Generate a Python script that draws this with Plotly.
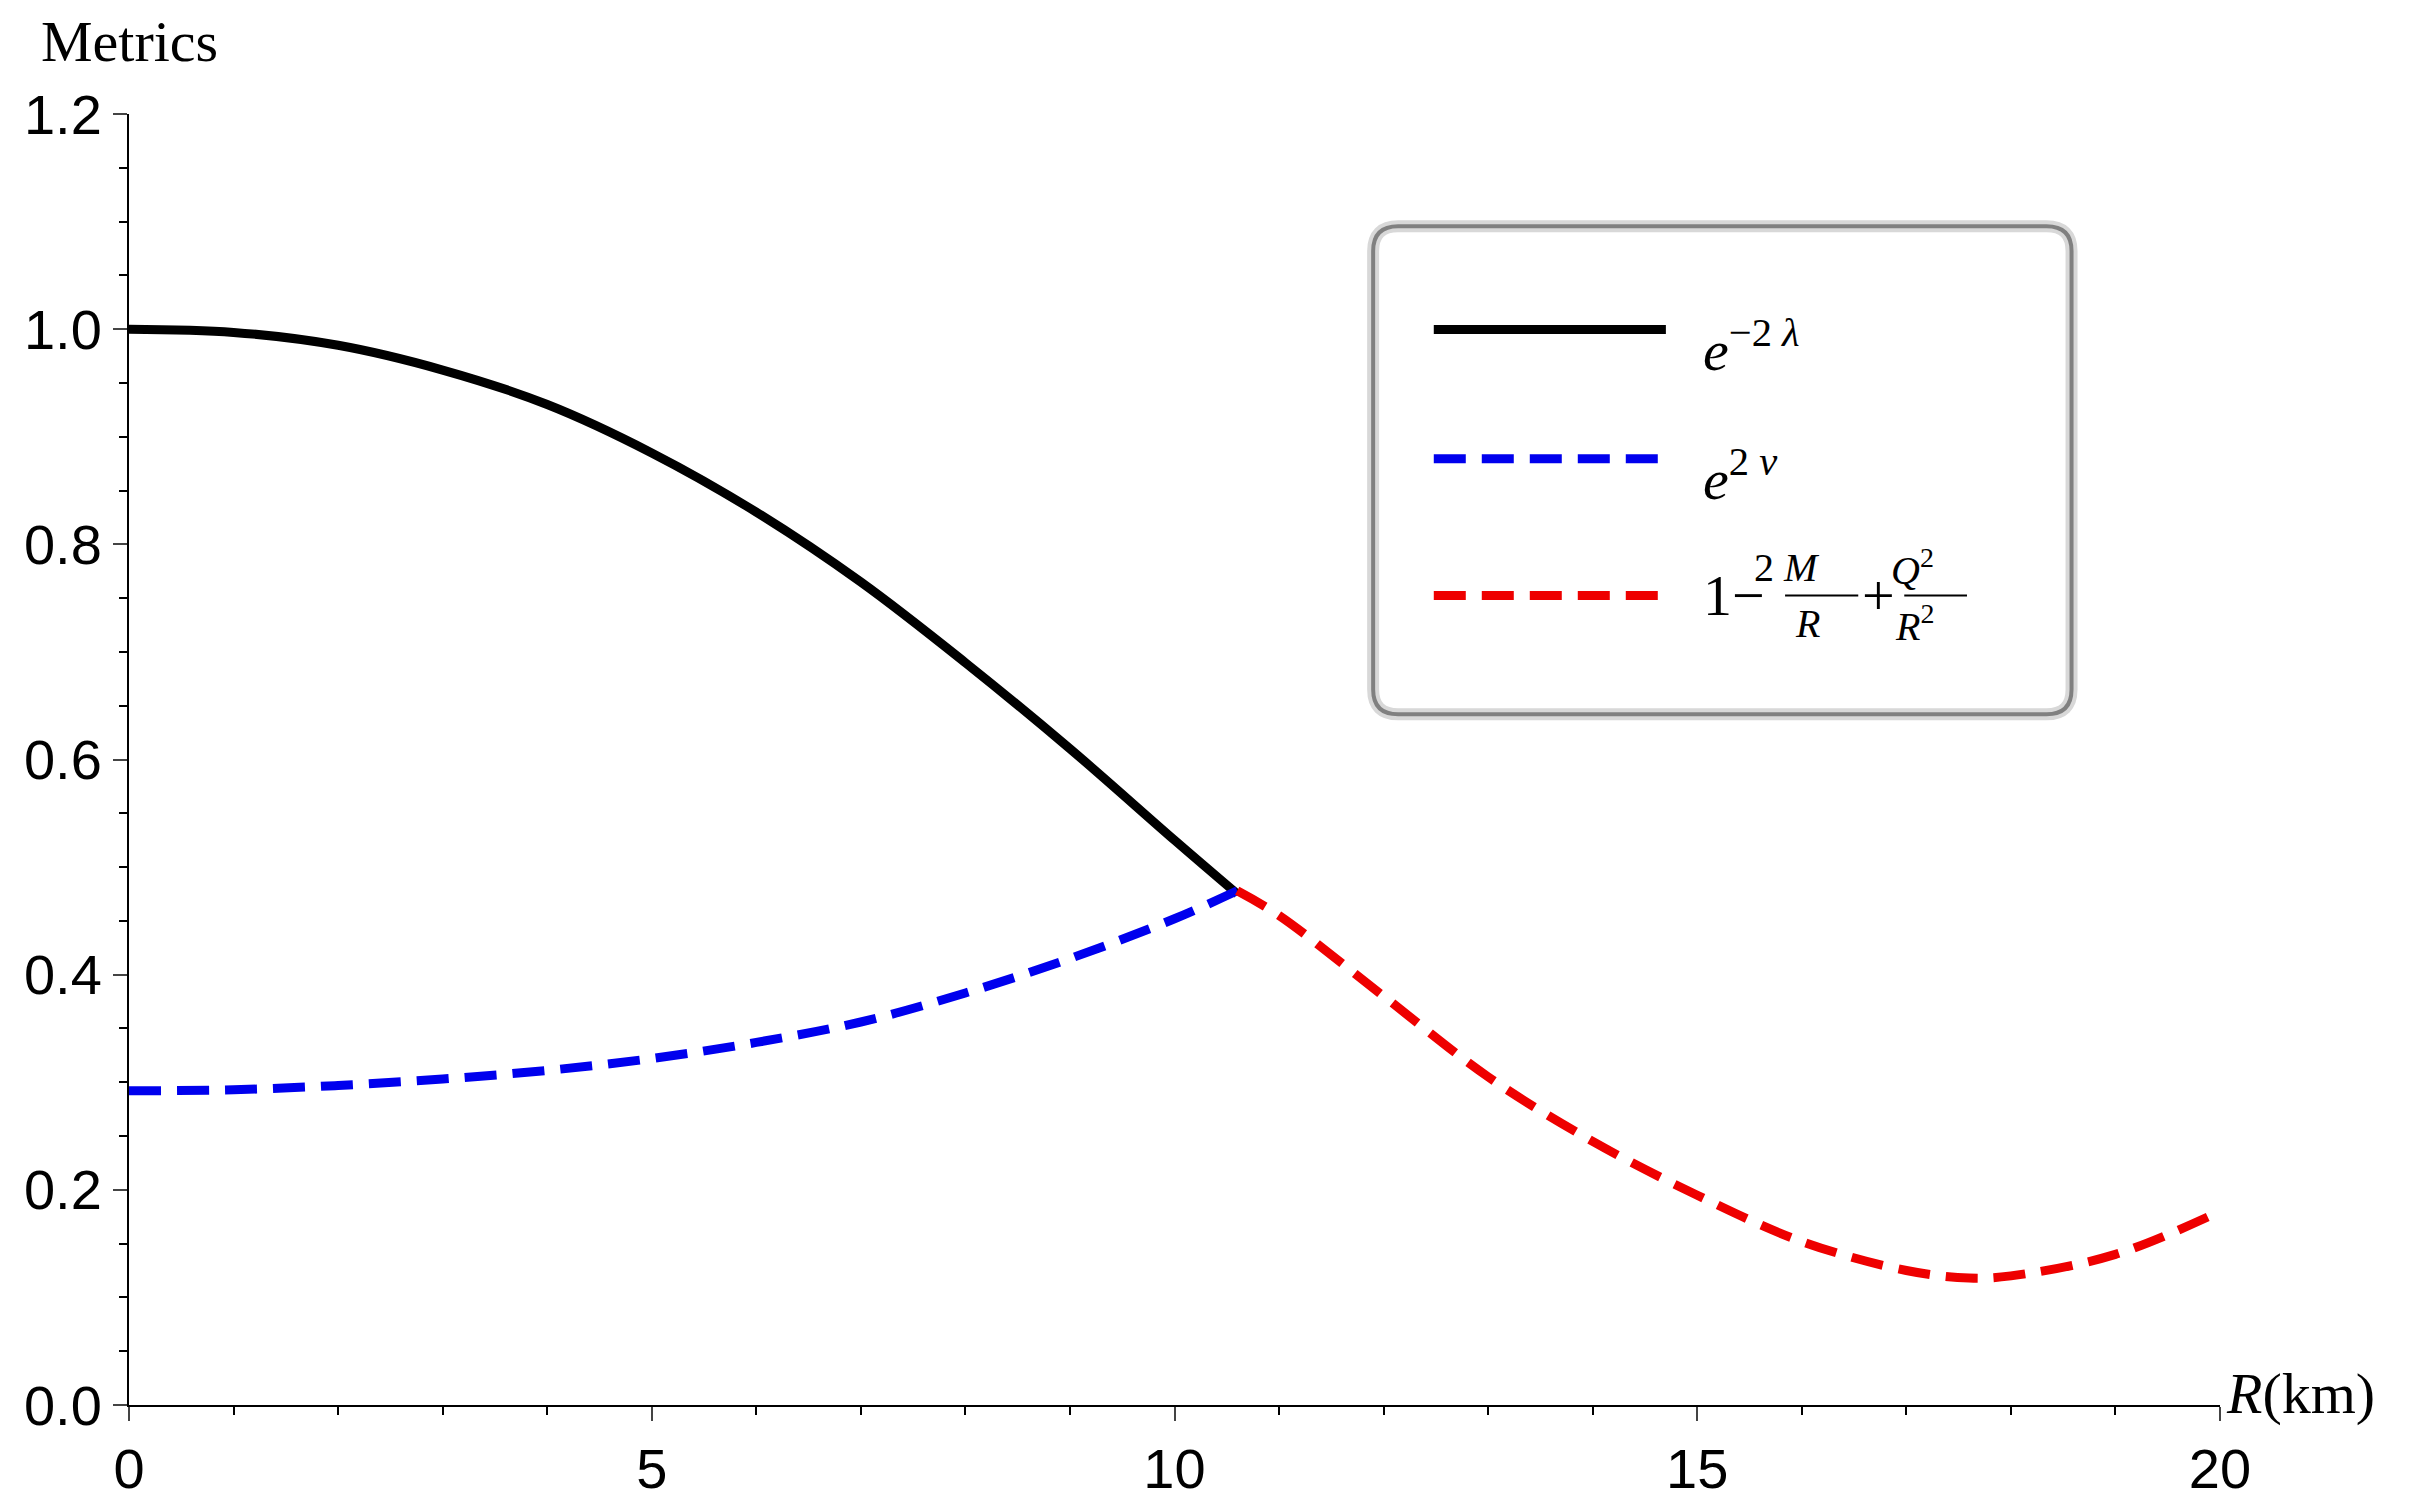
import plotly.graph_objects as go

r_in = [0, 1, 2, 3, 4, 5, 6, 7, 8, 9, 10, 10.6]
lam = [1.0, 0.997, 0.985, 0.962, 0.93, 0.885, 0.83, 0.765, 0.69, 0.61, 0.525, 0.475]
nu = [0.292, 0.293, 0.297, 0.303, 0.311, 0.322, 0.337, 0.356, 0.383, 0.415, 0.452, 0.478]
r_out = [10.6, 11, 12, 13, 14, 15, 16, 17, 17.6, 18, 19, 20]
rn = [0.478, 0.455, 0.38, 0.305, 0.245, 0.195, 0.152, 0.125, 0.118, 0.12, 0.14, 0.18]

DASH = "32px,16px"
fig = go.Figure()
fig.add_trace(go.Scatter(x=r_in, y=lam, mode="lines", line=dict(color="black", width=9, shape="spline")))
fig.add_trace(go.Scatter(x=r_in, y=nu, mode="lines", line=dict(color="#0000ee", width=9, dash=DASH, shape="spline")))
fig.add_trace(go.Scatter(x=r_out, y=rn, mode="lines", line=dict(color="#ee0000", width=9, dash=DASH, shape="spline")))

tickfont = dict(family="Liberation Sans", size=56, color="black")
fig.update_layout(
    width=2429, height=1504, showlegend=False,
    plot_bgcolor="white", paper_bgcolor="white",
    margin=dict(l=121, r=217, t=106, b=104),
    xaxis=dict(range=[0, 20], tickvals=[0, 5, 10, 15, 20], showgrid=False, zeroline=False,
               showline=True, linecolor="black", linewidth=2, ticks="outside", ticklen=14,
               tickwidth=2, tickfont=tickfont,
               minor=dict(dtick=1, ticks="outside", ticklen=8, tickcolor="black")),
    yaxis=dict(range=[0, 1.2], tickvals=[0, 0.2, 0.4, 0.6, 0.8, 1.0, 1.2], tickformat=".1f",
               showgrid=False, zeroline=False, showline=True, linecolor="black", linewidth=2,
               ticks="outside", ticklen=14, tickwidth=2, tickfont=tickfont,
               minor=dict(dtick=0.05, ticks="outside", ticklen=8, tickcolor="black")),
)

serif = dict(family="Liberation Serif", size=58, color="black")
fig.add_annotation(x=0, y=1.0, xref="paper", yref="paper", text="Metrics", showarrow=False,
                   xanchor="center", yanchor="bottom", yshift=38, font=serif)
fig.add_annotation(x=1.0, y=0, xref="paper", yref="paper", text="<i>R</i>(km)", showarrow=False,
                   xanchor="left", yanchor="middle", xshift=4, yshift=12, font=serif)

# legend box
x0, x1, y0, y1, rr = 0.595, 0.929, 0.535, 0.913, 0.012
path = (f"M {x0+rr},{y0} L {x1-rr},{y0} Q {x1},{y0} {x1},{y0+rr*1.6} L {x1},{y1-rr*1.6} "
        f"Q {x1},{y1} {x1-rr},{y1} L {x0+rr},{y1} Q {x0},{y1} {x0},{y1-rr*1.6} "
        f"L {x0},{y0+rr*1.6} Q {x0},{y0} {x0+rr},{y0} Z")
fig.add_shape(type="path", path=path, xref="paper", yref="paper",
              line=dict(color="#d8d8d8", width=12), fillcolor="white")
fig.add_shape(type="path", path=path, xref="paper", yref="paper",
              line=dict(color="#808080", width=4))

rows = [0.833, 0.733, 0.627]
styles = [("black", "solid"), ("#0000ee", DASH), ("#ee0000", DASH)]
for yy, (c, d) in zip(rows, styles):
    fig.add_shape(type="line", xref="paper", yref="paper", x0=0.624, x1=0.735, y0=yy, y1=yy,
                  line=dict(color=c, width=9, dash=d))
leg = dict(family="Liberation Serif", size=58, color="black")
fig.add_annotation(x=0.752, y=rows[0], xref="paper", yref="paper", showarrow=False, xanchor="left",
                   yshift=22, text="<i>e</i><sup>−2 <i>λ</i></sup>", font=leg)
fig.add_annotation(x=0.752, y=rows[1], xref="paper", yref="paper", showarrow=False, xanchor="left",
                   yshift=22, text="<i>e</i><sup>2 <i>ν</i></sup>", font=leg)
fig.add_annotation(x=0.752, y=rows[2], xref="paper", yref="paper", showarrow=False, xanchor="left",
                   text="1−", font=leg)
small = dict(family="Liberation Serif", size=40, color="black")
fig.add_annotation(x=0.8095, y=rows[2], xref="paper", yref="paper", showarrow=False, yshift=28,
                   text="2 <i>M</i>", font=small)
fig.add_annotation(x=0.8095, y=rows[2], xref="paper", yref="paper", showarrow=False, yshift=-28,
                   text="<i>R</i>", font=small)
fig.add_shape(type="line", xref="paper", yref="paper", x0=0.792, x1=0.827, y0=rows[2], y1=rows[2],
              line=dict(color="black", width=2))
fig.add_annotation(x=0.828, y=rows[2], xref="paper", yref="paper", showarrow=False, xanchor="left",
                   text="+", font=leg)
fig.add_annotation(x=0.864, y=rows[2], xref="paper", yref="paper", showarrow=False, yshift=28,
                   text="<i>Q</i><sup>2</sup>", font=small)
fig.add_annotation(x=0.864, y=rows[2], xref="paper", yref="paper", showarrow=False, yshift=-28,
                   text="<i>R</i><sup>2</sup>", font=small)
fig.add_shape(type="line", xref="paper", yref="paper", x0=0.849, x1=0.879, y0=rows[2], y1=rows[2],
              line=dict(color="black", width=2))

fig.write_html("out.html")
